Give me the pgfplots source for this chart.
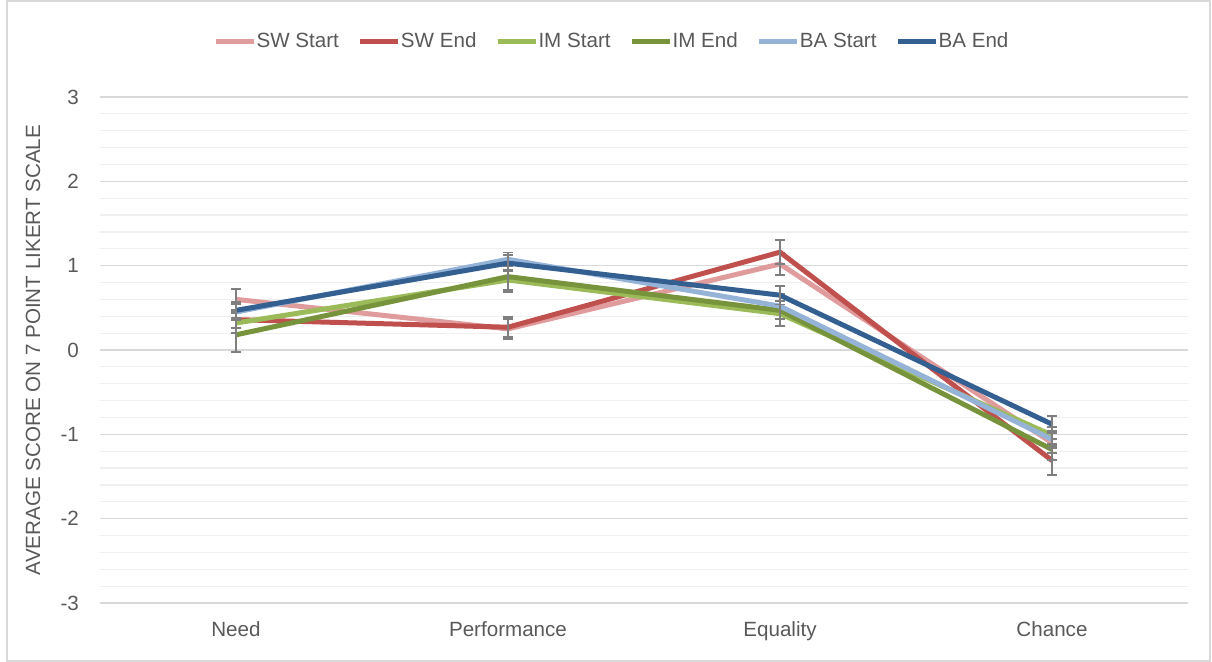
\documentclass[border=0pt]{standalone}
\usepackage{fontspec}
\setmainfont{Liberation Sans}
\usepackage{pgfplots}
\usepackage{pgfplotstable}
\pgfplotsset{compat=1.18}

\definecolor{txt}{HTML}{595959}
\definecolor{gridmaj}{HTML}{D9D9D9}
\definecolor{gridmin}{HTML}{EFEFEF}
\definecolor{errgray}{HTML}{7F7F7F}
\definecolor{swstart}{HTML}{E09C9C}
\definecolor{swend}{HTML}{C0504D}
\definecolor{imstart}{HTML}{9BBB59}
\definecolor{imend}{HTML}{77933C}
\definecolor{bastart}{HTML}{95B3D7}
\definecolor{baend}{HTML}{335F91}

% mean and error per series, categories at x = 0..3
\pgfplotstableread{
x  sws   swse  swe   swee  ims   imse  ime   imee  bas   base  bae   baee
0  0.60  0.12  0.36  0.10  0.32  0.12  0.18  0.20  0.45  0.10  0.47  0.10
1  0.25  0.12  0.27  0.12  0.83  0.12  0.87  0.18  1.075 0.08  1.03  0.10
2  1.02  0.13  1.16  0.14  0.43  0.15  0.47  0.18  0.52  0.15  0.65  0.11
3  -1.10 0.12  -1.31 0.17  -1.01 0.10  -1.18 0.12  -1.06 0.10  -0.88 0.10
}\datatable

\begin{document}
\begin{tikzpicture}
\useasboundingbox (0,0) rectangle (606pt,331pt);
\draw[gridmaj, line width=0.8pt] (3.5pt,0.5pt) rectangle (605pt,330.5pt);
\begin{axis}[
    at={(50pt,29.5pt)}, anchor=south west,
    scale only axis, width=544pt, height=253pt,
    xmin=-0.5, xmax=3.5, ymin=-3, ymax=3,
    xtick={0,1,2,3},
    xticklabels={Need,Performance,Equality,Chance},
    ytick={-3,-2,-1,0,1,2,3},
    minor y tick num=4,
    ymajorgrids, yminorgrids,
    major grid style={draw=gridmaj, line width=0.8pt},
    minor grid style={draw=gridmin, line width=0.6pt},
    axis line style={draw=none},
    tick style={draw=none},
    ticklabel style={font=\fontsize{10.3}{12}\selectfont, text=txt},
    /pgf/number format/assume math mode=true,
    yticklabel style={xshift=-7pt},
    xticklabel style={yshift=-6pt},
    ylabel={AVERAGE SCORE ON 7 POINT LIKERT SCALE},
    every axis y label/.style={at={(axis description cs:-0.0616,0.5)},
      anchor=center, rotate=90, font=\fontsize{10.3}{12}\selectfont, text=txt},
    legend columns=6,
    legend style={at={(0.4715,1.109)}, anchor=center, draw=none, fill=none,
      font=\fontsize{10.3}{12}\selectfont, text=txt,
      /tikz/every even column/.append style={column sep=7.5pt},
      /tikz/every odd column/.append style={column sep=-2pt}},
    legend image code/.code={\draw[#1, line width=2.5pt] (0pt,0pt) -- (19pt,0pt);},
    every axis plot/.append style={line width=2.5pt, line join=round, mark=none,
      error bars/y dir=both, error bars/y explicit,
      error bars/error bar style={color=errgray, line width=0.9pt},
      error bars/error mark options={rotate=90, mark size=2.5pt, line width=0.9pt, color=errgray}},
]
\addplot[color=swstart] table[x=x, y=sws, y error=swse] {\datatable};
\addplot[color=swend]   table[x=x, y=swe, y error=swee] {\datatable};
\addplot[color=imstart] table[x=x, y=ims, y error=imse] {\datatable};
\addplot[color=imend]   table[x=x, y=ime, y error=imee] {\datatable};
\addplot[color=bastart] table[x=x, y=bas, y error=base] {\datatable};
\addplot[color=baend]   table[x=x, y=bae, y error=baee] {\datatable};
\legend{SW Start, SW End, IM Start, IM End, BA Start, BA End}
\end{axis}
\end{tikzpicture}
\end{document}
